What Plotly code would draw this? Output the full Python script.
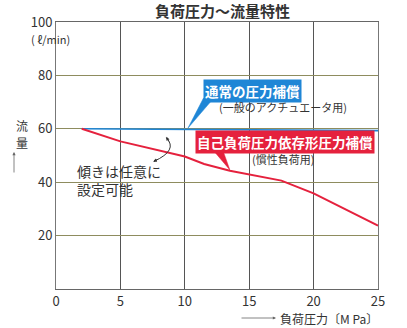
import plotly.graph_objects as go

# ---- data ----
pressure_red = [2, 5, 10, 11.5, 13.5, 16.5, 17.5, 20, 22, 25]
flow_red = [60, 55.3, 49.6, 46.8, 44.3, 41.5, 40.6, 35.8, 31.0, 23.7]
pressure_blue = [2, 25]
flow_blue = [60, 59.3]
x_ticks = [0, 5, 10, 15, 20, 25]
y_ticks = [20, 40, 60, 80, 100]

FONT = "Noto Sans CJK JP"
BLUE = "#1f86d6"
RED = "#e5213d"

fig = go.Figure()
fig.add_trace(go.Scatter(x=pressure_blue, y=flow_blue, mode="lines",
                         line=dict(color=BLUE, width=1.6), hoverinfo="skip"))
fig.add_trace(go.Scatter(x=pressure_red, y=flow_red, mode="lines",
                         line=dict(color=RED, width=2), hoverinfo="skip"))

fig.update_layout(
    width=407, height=328,
    margin=dict(l=56, r=29, t=22, b=39),
    paper_bgcolor="white", plot_bgcolor="white",
    showlegend=False,
    font=dict(family=FONT, color="#333"),
    xaxis=dict(range=[0, 25], tickvals=x_ticks, showgrid=True, gridcolor="#555",
               gridwidth=1, zeroline=False, showline=True, linecolor="#666",
               mirror=True, ticks="", tickfont=dict(size=13, color="#333"),
               fixedrange=True),
    yaxis=dict(range=[0, 100], tickvals=y_ticks, showgrid=True, gridcolor="#8e8c5e",
               gridwidth=1, zeroline=False, showline=True, linecolor="#777",
               mirror=True, ticks="", tickfont=dict(size=13, color="#333"),
               fixedrange=True),
)

# callout pointers
fig.add_shape(type="path", path="M 11.45,71.5 L 12.25,71.5 L 10.25,60.3 Z",
              fillcolor=BLUE, line=dict(color=BLUE, width=0.5), layer="above")
fig.add_shape(type="path", path="M 12.2,52.0 L 12.95,52.0 L 13.5,44.6 Z",
              fillcolor=RED, line=dict(color=RED, width=0.5), layer="above")
# curved double arrow
fig.add_shape(type="path", path="M 8.57,56.6 Q 9.5,52 7.6,47.8",
              line=dict(color="#333", width=1), layer="above")


def px(xp):
    return (xp - 56) / 322


def py(yp):
    return (289 - yp) / 267


ann = []
# title
ann.append(dict(text="<b>負荷圧力〜流量特性</b>", x=px(222), y=py(11),
                xref="paper", yref="paper", yanchor="middle", showarrow=False,
                font=dict(size=15, color="#333")))
# y unit
ann.append(dict(text="( ℓ/min)", x=px(29), y=py(39), xref="paper", yref="paper",
                yanchor="middle", showarrow=False, font=dict(size=11, color="#333")))
ann.append(dict(text="流", x=px(14), y=py(126), xref="paper", yref="paper",
                yanchor="middle", showarrow=False, font=dict(size=12, color="#333")))
ann.append(dict(text="量", x=px(14), y=py(142), xref="paper", yref="paper",
                yanchor="middle", showarrow=False, font=dict(size=12, color="#333")))
ann.append(dict(text="", x=px(14), y=py(152), xref="paper", yref="paper",
                showarrow=True, ax=0, ay=22, arrowhead=2, arrowsize=0.8, arrowwidth=0.8,
                arrowcolor="#666"))
# x title
ann.append(dict(text="", x=px(276), y=py(318), xref="paper", yref="paper",
                showarrow=True, ax=-36, ay=0, arrowhead=2, arrowsize=0.8, arrowwidth=0.8,
                arrowcolor="#666"))
ann.append(dict(text="負荷圧力〔M Pa〕", x=px(278), y=py(318), xref="paper",
                yref="paper", xanchor="left", yanchor="middle", showarrow=False,
                font=dict(size=12, color="#333")))
# blue label
ann.append(dict(text="<b>通常の圧力補償</b>", x=15.25, y=74.3, showarrow=False,
                bgcolor=BLUE, borderpad=1, font=dict(size=13.5, color="white")))
ann.append(dict(text="(一般のアクチュエータ用)", x=17.6, y=68.0, showarrow=False,
                font=dict(size=11, color="#333")))
# red label
ann.append(dict(text="<b>自己負荷圧力依存形圧力補償</b>", x=17.8, y=54.9, showarrow=False,
                bgcolor=RED, borderpad=1, font=dict(size=13.5, color="white")))
ann.append(dict(text="(慣性負荷用)", x=17.6, y=48.6, showarrow=False,
                font=dict(size=11, color="#333")))
# slope note
ann.append(dict(text="傾きは任意に<br>設定可能", x=1.45, y=40.8, xanchor="left", showarrow=False,
                align="left", font=dict(size=14, color="#333")))
# arrowheads for curve
ann.append(dict(text="", x=8.57, y=57.0, showarrow=True, ax=3, ay=6, arrowhead=2,
                arrowsize=0.7, arrowwidth=1, arrowcolor="#333"))
ann.append(dict(text="", x=7.55, y=47.7, showarrow=True, ax=6, ay=-3, arrowhead=2,
                arrowsize=0.7, arrowwidth=1, arrowcolor="#333"))

fig.update_layout(annotations=ann)
fig.write_html("out.html")
